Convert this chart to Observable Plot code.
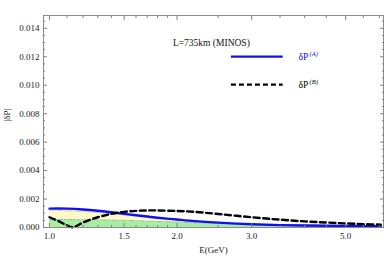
<!DOCTYPE html>
<html>
<head>
<meta charset="utf-8">
<script src="https://cdn.jsdelivr.net/npm/d3@7"></script>
<script src="https://cdn.jsdelivr.net/npm/@observablehq/plot@0.6"></script>
<style>
  html, body { margin: 0; padding: 0; background: #fff; }
  #chart svg { display: block; }
</style>
</head>
<body>
<div id="chart"></div>
<script>
// ---- data ----
const energyA = [1.0, 1.05, 1.1, 1.2, 1.3, 1.4, 1.5, 1.6, 1.7, 1.8, 2.0, 2.2, 2.5, 3.0, 3.5, 4.0, 4.5, 5.0, 5.5, 6.05];
const dPA     = [0.00133, 0.00134, 0.00133, 0.00127, 0.00118, 0.00107, 0.00096, 0.00086, 0.00077, 0.00069, 0.00056, 0.00045, 0.00034, 0.00023, 0.00017, 0.00014, 0.00012, 0.00011, 0.00010, 0.00009];

const energyB = [1.0, 1.05, 1.1, 1.13, 1.16, 1.2, 1.3, 1.4, 1.5, 1.6, 1.7, 1.8, 2.0, 2.2, 2.5, 3.0, 3.5, 4.0, 4.5, 5.0, 5.5, 6.05];
const dPB     = [0.00072, 0.00045, 0.00015, 0.00002, 0.00012, 0.00035, 0.00072, 0.00096, 0.00110, 0.00117, 0.00120, 0.00120, 0.00116, 0.00110, 0.00095, 0.00072, 0.00055, 0.00043, 0.00035, 0.00029, 0.00024, 0.00020];

const energyBand = [1.0, 1.2, 1.5, 1.8, 2.0, 2.5, 3.0, 4.0, 5.0, 6.05];
const bandUpper  = [0.00122, 0.00112, 0.00088, 0.00065, 0.00052, 0.00033, 0.00022, 0.00016, 0.00014, 0.00012];
const bandLower  = [0.00057, 0.00055, 0.00050, 0.00043, 0.00038, 0.00028, 0.00020, 0.00015, 0.00013, 0.00012];

const xTickLabels = [1.0, 1.5, 2.0, 3.0, 5.0];
const xMinorTicks = [1.1, 1.2, 1.3, 1.4, 1.6, 1.7, 1.8, 1.9, 2.5, 3.5, 4.0, 4.5, 5.5, 6.0];
const yTickLabels = [0, 0.002, 0.004, 0.006, 0.008, 0.010, 0.012, 0.014];
const yMinorTicks = d3.range(0, 0.01475, 0.0005).filter(v => Math.round(v * 10000) % 20 !== 0);

const titleText = "L=735km (MINOS)";
const legendSeries = ["A", "B"];
const legendColors = ["#1010ee", "#000000"];

// ---- layout ----
const W = 387, H = 259;
const xDomain = [0.968, 6.14];
const yDomain = [0, 0.0149];

const rowsA = energyA.map((e, i) => ({E: e, v: dPA[i]}));
const rowsB = energyB.map((e, i) => ({E: e, v: dPB[i]}));
const rowsBand = energyBand.map((e, i) => ({E: e, lo: bandLower[i], hi: bandUpper[i]}));

const serif = "'Liberation Serif', 'Times New Roman', serif";
const frameColor = "#808080";

// legend positions (data space)
const legendRows = [
  {s: legendSeries[0], c: legendColors[0], y: 0.01201},
  {s: legendSeries[1], c: legendColors[1], y: 0.01004}
];
const legendX1 = 2.68, legendX2 = 3.55, legendTextX = 3.87;

const chart = Plot.plot({
  width: W,
  height: H,
  marginLeft: 43,
  marginRight: 4,
  marginTop: 15,
  marginBottom: 32,
  style: {fontFamily: serif, fontSize: "9px", color: "#222", background: "#fff"},
  x: {type: "log", domain: xDomain},
  y: {domain: yDomain},
  marks: [
    // filled regions
    Plot.areaY(rowsBand, {x: "E", y1: 0, y2: "lo", fill: "#a4f0a0", curve: "monotone-x"}),
    Plot.areaY(rowsBand, {x: "E", y1: "lo", y2: "hi", fill: "#fdf9c8", curve: "monotone-x"}),
    Plot.line(rowsBand, {x: "E", y: "lo", stroke: "#aaaaaa", strokeWidth: 0.8, strokeDasharray: "4,2,1,2", curve: "monotone-x"}),
    Plot.line(rowsBand, {x: "E", y: "hi", stroke: "#bbbbbb", strokeWidth: 0.8, strokeDasharray: "4,2,1,2", curve: "monotone-x"}),
    // curves
    Plot.line(rowsA, {x: "E", y: "v", stroke: legendColors[0], strokeWidth: 2.4, curve: "catmull-rom"}),
    Plot.line(rowsB, {x: "E", y: "v", stroke: legendColors[1], strokeWidth: 2.4, strokeDasharray: "6,3.5", curve: "catmull-rom"}),
    // frame
    Plot.frame({stroke: frameColor, strokeWidth: 0.9}),
    // inward ticks
    Plot.axisY({anchor: "left", ticks: yTickLabels, tickSize: -4, text: null, stroke: frameColor, label: null}),
    Plot.axisY({anchor: "right", ticks: yTickLabels, tickSize: -4, text: null, stroke: frameColor, label: null}),
    Plot.axisY({anchor: "left", ticks: yMinorTicks, tickSize: -2, text: null, stroke: frameColor, label: null}),
    Plot.axisY({anchor: "right", ticks: yMinorTicks, tickSize: -2, text: null, stroke: frameColor, label: null}),
    Plot.axisX({anchor: "bottom", ticks: xTickLabels, tickSize: -4, text: null, stroke: frameColor, label: null}),
    Plot.axisX({anchor: "top", ticks: xTickLabels, tickSize: -4, text: null, stroke: frameColor, label: null}),
    Plot.axisX({anchor: "bottom", ticks: xMinorTicks, tickSize: -2, text: null, stroke: frameColor, label: null}),
    Plot.axisX({anchor: "top", ticks: xMinorTicks, tickSize: -2, text: null, stroke: frameColor, label: null}),
    // tick labels
    Plot.axisY({anchor: "left", ticks: yTickLabels, tickSize: 0, tickPadding: 4, tickFormat: d3.format(".3f"), label: null, fill: "#222"}),
    Plot.axisX({anchor: "bottom", ticks: xTickLabels, tickSize: 0, tickPadding: 5.5, tickFormat: d3.format(".1f"), label: null, fill: "#222"}),
    // axis titles
    Plot.text([0], {frameAnchor: "left", text: () => "|δP|", rotate: -90, dx: -36, fontSize: 9, fill: "#222"}),
    Plot.text([0], {frameAnchor: "bottom", text: () => "E(GeV)", dy: 25, fontSize: 9, fill: "#222"}),
    // annotation
    Plot.text([0], {x: 2.41, y: 0.01294, text: () => titleText, fontSize: 9.5, fill: "#111"}),
    // legend
    Plot.link([legendRows[0]], {x1: legendX1, x2: legendX2, y1: "y", y2: "y", stroke: legendColors[0], strokeWidth: 2.4}),
    Plot.link([legendRows[1]], {x1: legendX1, x2: legendX2, y1: "y", y2: "y", stroke: legendColors[1], strokeWidth: 2.4, strokeDasharray: "5,3"}),
    Plot.text(legendRows, {x: legendTextX, y: "y", text: () => "δP", fill: "c", textAnchor: "start", fontSize: 9.5}),
    Plot.text(legendRows, {x: legendTextX, y: "y", text: d => "(" + d.s + ")", fill: "c", textAnchor: "start", fontSize: 6.5, fontStyle: "italic", dx: 11, dy: -3})
  ]
});
document.getElementById("chart").appendChild(chart);
</script>
</body>
</html>
